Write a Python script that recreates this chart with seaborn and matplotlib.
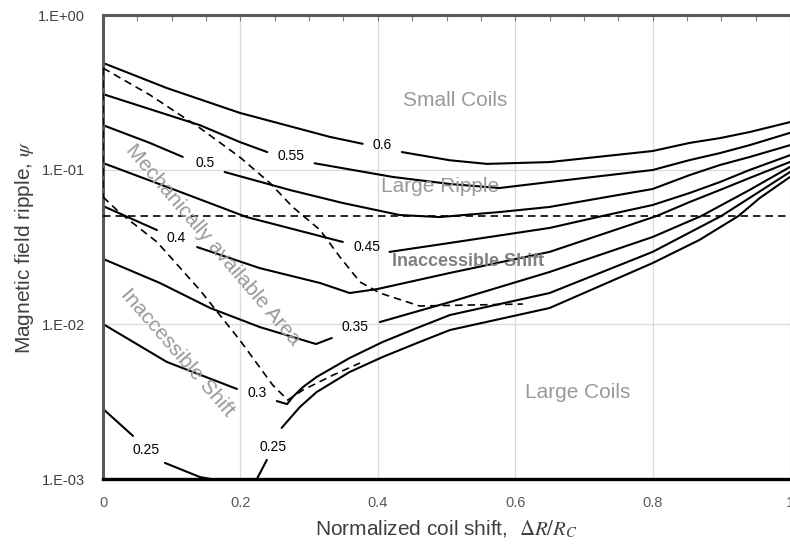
import numpy as np
import pandas as pd
import seaborn as sns
import matplotlib.pyplot as plt
from matplotlib.ticker import FixedLocator, LogLocator, NullFormatter, MultipleLocator

nan = np.nan

# ---------------------------------------------------
# contour lines (solid), nan = break where the label sits
# ---------------------------------------------------
x_060 = [0, 0.093, 0.199, 0.330, 0.378, nan, 0.435, 0.505, 0.559, 0.650, 0.800, 0.854, 0.898, 0.941, 1.0]
y_060 = [0.49, 0.337, 0.233, 0.163, 0.147, nan, 0.130, 0.115, 0.109, 0.112, 0.132, 0.149, 0.160, 0.175, 0.203]

x_055 = [0, 0.141, 0.199, 0.239, nan, 0.308, 0.422, 0.505, 0.577, 0.650, 0.800, 0.854, 0.898, 0.941, 1.0]
y_055 = [0.308, 0.194, 0.151, 0.130, nan, 0.110, 0.0897, 0.0808, 0.0761, 0.0832, 0.0995, 0.1154, 0.128, 0.144, 0.173]

x_050 = [0, 0.068, 0.116, nan, 0.177, 0.272, 0.349, 0.432, 0.490, 0.577, 0.650, 0.800, 0.854, 0.898, 0.941, 1.0]
y_050 = [0.194, 0.149, 0.121, nan, 0.0966, 0.0739, 0.0609, 0.0509, 0.0494, 0.0532, 0.0574, 0.0750, 0.0923, 0.1072, 0.1207, 0.144]

x_045 = [0, 0.105, 0.209, 0.349, nan, 0.417, 0.505, 0.650, 0.727, 0.800, 0.854, 0.898, 0.941, 1.0]
y_045 = [0.1104, 0.0739, 0.0494, 0.0341, nan, 0.0294, 0.0336, 0.0420, 0.0502, 0.0591, 0.0707, 0.0832, 0.0995, 0.124]

x_040 = [0, 0.0785, nan, 0.137, 0.228, 0.316, 0.359, 0.399, 0.505, 0.650, 0.806, 0.854, 0.898, 0.941, 1.0]
y_040 = [0.0582, 0.0407, nan, 0.0316, 0.0231, 0.0185, 0.01594, 0.0169, 0.0215, 0.0294, 0.0502, 0.0618, 0.0739, 0.0883, 0.1122]

x_035 = [0, 0.0829, 0.156, 0.228, 0.310, 0.333, nan, 0.403, 0.505, 0.650, 0.800, 0.871, 0.941, 1.0]
y_035 = [0.0265, 0.0185, 0.01275, 0.00961, 0.00746, 0.00816, nan, 0.01035, 0.01394, 0.0218, 0.0367, 0.0502, 0.0739, 0.1041]

x_030 = [0, 0.093, 0.195, nan, 0.253, 0.268, 0.276, 0.291, 0.311, 0.359, 0.407, 0.457, 0.505,
         0.650, 0.800, 0.900, 0.941, 1.0]
y_030 = [0.01005, 0.00571, 0.00382, nan, 0.00319, 0.00305, 0.00339, 0.00393, 0.00457, 0.00606, 0.00769, 0.00947, 0.01149,
         0.01594, 0.0294, 0.0502, 0.0656, 0.0966]

x_025a = [0, 0.0436, nan, 0.0902, 0.141, 0.157]
y_025a = [0.00284, 0.0019, nan, 0.00127, 0.00103, 0.001]

x_025b = [0.224, 0.2385, nan, 0.260, 0.2865, 0.311, 0.359, 0.407, 0.457, 0.505, 0.650, 0.800, 0.868, 0.925, 0.956, 1.0]
y_025b = [0.001, 0.00133, nan, 0.00214, 0.00292, 0.00365, 0.00492, 0.00615, 0.00757, 0.00919, 0.01275, 0.0249, 0.0351,
          0.0502, 0.0656, 0.0897]

# ---------------------------------------------------
# dashed boundaries
# ---------------------------------------------------
x_dash1 = [0, 0.0684, 0.141, 0.199, 0.243, 0.276, 0.316, 0.345, 0.374, 0.403, 0.461, 0.611]
y_dash1 = [0.454, 0.304, 0.186, 0.1207, 0.082, 0.0574, 0.0407, 0.0272, 0.0188, 0.01594, 0.01314, 0.01353]

x_dash2 = [0, 0.0247, 0.0785, 0.141, 0.199, 0.247, 0.269, 0.291, 0.335, 0.374]
y_dash2 = [0.0666, 0.0525, 0.0341, 0.01667, 0.00792, 0.00405, 0.00324, 0.00376, 0.0047, 0.00562]

x_dash_axis = [0, 0]
y_dash_axis = [0.454, 0.0666]

x_ripple = [0, 1]
y_ripple = [0.05, 0.05]

y_ticks = [1e-3, 1e-2, 1e-1, 1]
y_tick_labels = ['1.E-03', '1.E-02', '1.E-01', '1.E+00']
x_ticks = [0, 0.2, 0.4, 0.6, 0.8, 1.0]
x_tick_labels = ['0', '0.2', '0.4', '0.6', '0.8', '1']

solid = {'0.6': (x_060, y_060), '0.55': (x_055, y_055), '0.5': (x_050, y_050),
         '0.45': (x_045, y_045), '0.4': (x_040, y_040), '0.35': (x_035, y_035),
         '0.3': (x_030, y_030), '0.25a': (x_025a, y_025a), '0.25b': (x_025b, y_025b)}
dashed = {'d1': (x_dash1, y_dash1), 'd2': (x_dash2, y_dash2),
          'd0': (x_dash_axis, y_dash_axis), 'ripple': (x_ripple, y_ripple)}


def to_long(curves):
    rows = []
    seg = 0
    for name, (xs, ys) in curves.items():
        for xv, yv in zip(xs, ys):
            if np.isnan(xv):
                seg += 1
                continue
            rows.append((name, seg, xv, yv))
        seg += 1
    return pd.DataFrame(rows, columns=['curve', 'seg', 'x', 'y'])


df_solid = to_long(solid)
df_dash = to_long(dashed)

sns.set_style('white')
plt.rcParams['font.family'] = ['Liberation Sans', 'DejaVu Sans']
plt.rcParams['mathtext.fontset'] = 'stix'

fig, ax = plt.subplots(figsize=(7.9, 5.46), dpi=100)
fig.subplots_adjust(left=0.1304, right=1.0, top=0.9725, bottom=0.1227)
ax.set_yscale('log')

sns.lineplot(data=df_solid, x='x', y='y', units='seg', estimator=None, sort=False,
             color='black', lw=1.5, ax=ax)
n_solid = len(ax.lines)
sns.lineplot(data=df_dash, x='x', y='y', units='seg', estimator=None, sort=False,
             color='black', lw=1.2, ax=ax)
# lineas discontinuas por encima de los ejes
for ln in ax.lines[n_solid:]:
    ln.set_linestyle((0, (4.5, 3)))
    ln.set_zorder(3)

ax.set_xlim(0, 1)
ax.set_ylim(1e-3, 1)

# ejes y marcas
ax.yaxis.set_major_locator(FixedLocator(y_ticks))
ax.set_yticklabels(y_tick_labels)
ax.yaxis.set_minor_locator(LogLocator(base=10, subs=np.arange(2, 10)))
ax.yaxis.set_minor_formatter(NullFormatter())
ax.set_xticks(x_ticks)
ax.set_xticklabels(x_tick_labels)
ax.xaxis.set_minor_locator(MultipleLocator(0.05))

ax.tick_params(axis='y', which='major', direction='out', length=4, width=1, color='#7f7f7f',
               labelsize=10.5, labelcolor='#404040', pad=9)
ax.tick_params(axis='y', which='minor', direction='out', length=3, width=0.8, color='#7f7f7f')
ax.tick_params(axis='x', which='both', bottom=False, top=True, direction='in', length=4,
               width=0.8, color='#7f7f7f', labelsize=10.5, labelcolor='#595959', pad=12)

ax.grid(True, which='major', color='#d9d9d9', lw=0.9)
ax.set_axisbelow(True)

for side in ['top', 'left']:
    ax.spines[side].set_color('#595959')
    ax.spines[side].set_linewidth(2.2)
ax.spines['bottom'].set_color('black')
ax.spines['bottom'].set_linewidth(2.4)
ax.spines['right'].set_visible(False)

ax.set_xlabel(r'Normalized coil shift,  $\Delta R/R_C$', fontsize=15, color='#404040')
ax.set_ylabel(r'Magnetic field ripple, $\psi$', fontsize=15, color='#404040')
ax.xaxis.set_label_coords(0.5, -0.085)
ax.yaxis.set_label_coords(-0.098, 0.5)

# etiquetas de los contornos
lbl = dict(fontsize=10, color='black', ha='center', va='center')
ax.text(0.407, 0.144, '0.6', **lbl)
ax.text(0.273, 0.1226, '0.55', **lbl)
ax.text(0.148, 0.1104, '0.5', **lbl)
ax.text(0.384, 0.0316, '0.45', **lbl)
ax.text(0.106, 0.0361, '0.4', **lbl)
ax.text(0.3665, 0.00961, '0.35', **lbl)
ax.text(0.224, 0.0036, '0.3', **lbl)
ax.text(0.0625, 0.00154, '0.25', **lbl)
ax.text(0.2473, 0.00161, '0.25', **lbl)

# regiones
reg = dict(fontsize=15, color='#999999', ha='center', va='center')
ax.text(0.512, 0.282, 'Small Coils', **reg)
ax.text(0.490, 0.0773, 'Large Ripple', **reg)
ax.text(0.691, 0.0036, 'Large Coils', **reg)
ax.text(0.532, 0.0253, 'Inaccessible Shift', fontsize=13, color='#808080', ha='center', va='center',
        fontweight='bold')
ax.text(0.16, 0.0326, 'Mechanically available Area', rotation=-49.5, rotation_mode='anchor', **reg)
ax.text(0.108, 0.00653, 'Inaccessible Shift', rotation=-49, rotation_mode='anchor', **reg)

plt.savefig('out.png', dpi=100)
